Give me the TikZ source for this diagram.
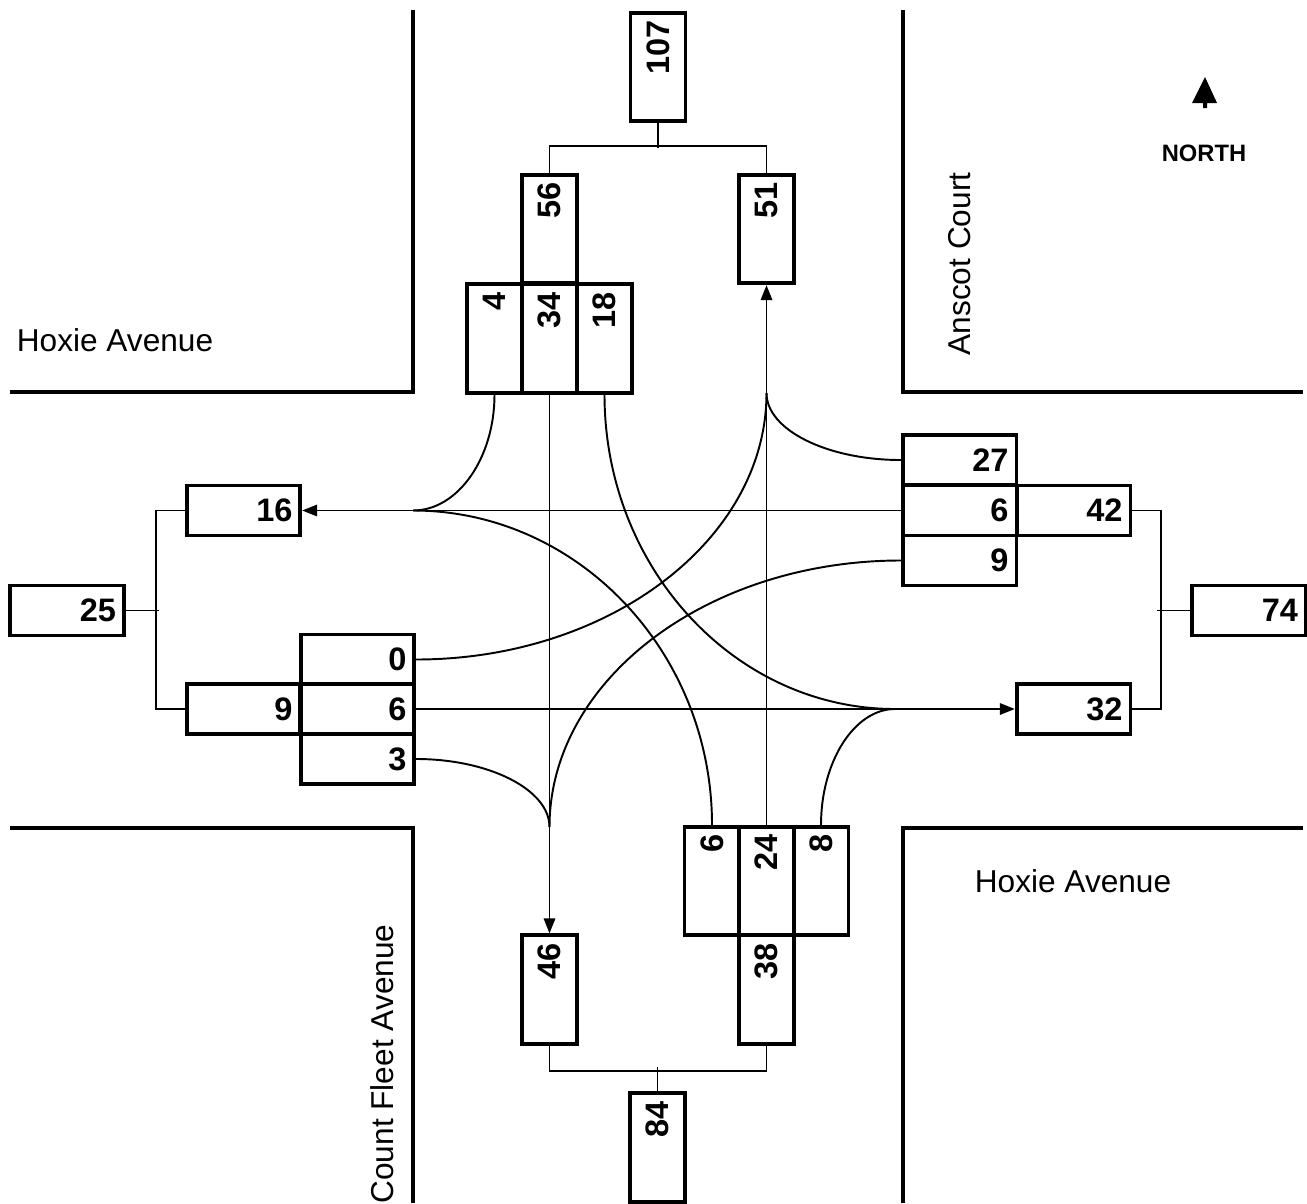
\documentclass[tikz,border=0pt]{standalone}
\usepackage{fontspec}
\setmainfont{Liberation Sans}
\usetikzlibrary{arrows.meta}

\begin{document}
\begin{tikzpicture}[x=0.02cm, y=-0.02cm,
  box/.style={draw, line width=2.1pt, font=\bfseries\fontsize{18.5}{20}\selectfont,
    inner xsep=4.5pt, inner ysep=0pt, align=right},
  hbox/.style={box, minimum height=1cm, text width=55.7pt},
  vbox/.style={box, rotate=90, minimum height=1.1cm, text width=52.8pt},
  road/.style={line width=2pt},
  flow/.style={line width=1.1pt},
  arr/.style={flow, -{Triangle[length=8.5pt,width=6.5pt]}},
  street/.style={font=\fontsize{18}{20}\selectfont, inner sep=0pt}]
  \useasboundingbox (0,0) rectangle (1307,1203);

  % kerbs of the four corners
  \draw[road] (10,392) -- (413,392) -- (413,10);
  \draw[road] (903,10) -- (903,392) -- (1303,392);
  \draw[road] (10,828) -- (413,828) -- (413,1203);
  \draw[road] (903,1203) -- (903,828) -- (1303,828);

  \node[street] (hoxieW) at (115,340) {Hoxie Avenue};
  \node[street] (hoxieE) at (1073,881) {Hoxie Avenue};
  \node[street, rotate=90] (anscot) at (960,264) {Anscot Court};
  \node[street, rotate=90] (countfleet) at (382,1064) {Count Fleet Avenue};

  % north sign
  \fill (1205,77) -- (1217,103) -- (1207,103) -- (1207,108) -- (1203,108)
    -- (1203,103) -- (1192,103) -- cycle;
  \node[font=\bfseries\fontsize{13.5}{15}\selectfont] (north) at (1204,153) {NORTH};

  % north leg (rotated boxes: .east is the top, .west the bottom)
  \node[vbox] (nTot) at (658,67) {107};
  \node[vbox] (sbIn) at (549.5,229) {56};
  \node[vbox] (nOut) at (766.5,229) {51};
  \node[vbox] (sbR) at (494.5,338.5) {4};
  \node[vbox] (sbT) at (549.5,338.5) {34};
  \node[vbox] (sbL) at (604.5,338.5) {18};
  \draw[flow] (sbIn.east) -- ++(0,-27) -| (nOut.east);
  \draw[flow] (nTot.west) -- ++(0,25);

  % west leg
  \node[hbox] (wOut) at (243.5,510.5) {16};
  \node[hbox] (wTot) at (67,610.5) {25};
  \node[hbox] (wIn) at (243.5,709) {9};
  \node[hbox] (ebL) at (357.5,659.5) {0};
  \node[hbox] (ebT) at (357.5,709) {6};
  \node[hbox] (ebR) at (357.5,759) {3};
  \draw[flow] (wOut.west) -- ++(-29,0) |- (wIn.west);
  \draw[flow] (wTot.east) -- ++(33,0);

  % east leg
  \node[hbox] (wbR) at (959.5,460) {27};
  \node[hbox] (wbT) at (959.5,510.5) {6};
  \node[hbox] (wbL) at (959.5,560.5) {9};
  \node[hbox] (eIn) at (1073.5,510.5) {42};
  \node[hbox] (eTot) at (1249,610.5) {74};
  \node[hbox] (eOut) at (1073.5,709) {32};
  \draw[flow] (eIn.east) -- ++(29,0) |- (eOut.east);
  \draw[flow] (eTot.west) -- ++(-33,0);

  % south leg
  \node[vbox] (nbL) at (712,881) {6};
  \node[vbox] (nbT) at (766.5,881) {24};
  \node[vbox] (nbR) at (821,881) {8};
  \node[vbox] (sIn) at (766.5,989.5) {38};
  \node[vbox] (sOut) at (549.5,989.5) {46};
  \node[vbox] (sTot) at (657.5,1147.5) {84};
  \draw[flow] (sOut.west) -- ++(0,25) -| (sIn.west);
  \draw[flow] (sTot.east) -- ++(0,-24);

  % where turning movements join the through lines
  \coordinate (mW) at (413,510.5);
  \coordinate (mN) at (766.5,393);
  \coordinate (mE) at (895,709);
  \coordinate (mS) at (549.5,827);

  % through movements
  \draw[arr] (sbT.west) -- (sOut.east);
  \draw[arr] (nbT.east) -- (nOut.west);
  \draw[arr] (wbT.west) -- (wOut.east);
  \draw[arr] (ebT.east) -- (eOut.west);

  % turning movements
  \draw[flow] (sbR.west) .. controls (494.5,457.9) and (458,510.5) .. (mW);
  \draw[flow] (sbL.west) .. controls (604.5,567.5) and (734.6,709) .. (mE);
  \draw[flow] (wbR.west) .. controls (827.2,460) and (766.5,430) .. (mN);
  \draw[flow] (wbL.west) .. controls (707.4,560.5) and (549.5,679.9) .. (mS);
  \draw[flow] (ebL.east) .. controls (608.6,659.5) and (766.5,540.1) .. (mN);
  \draw[flow] (ebR.east) .. controls (488.8,759) and (549.5,789.5) .. (mS);
  \draw[flow] (nbL.east) .. controls (712,652.2) and (578.1,510.5) .. (mW);
  \draw[flow] (nbR.east) .. controls (821,761.8) and (854.2,709) .. (mE);
\end{tikzpicture}
\end{document}
